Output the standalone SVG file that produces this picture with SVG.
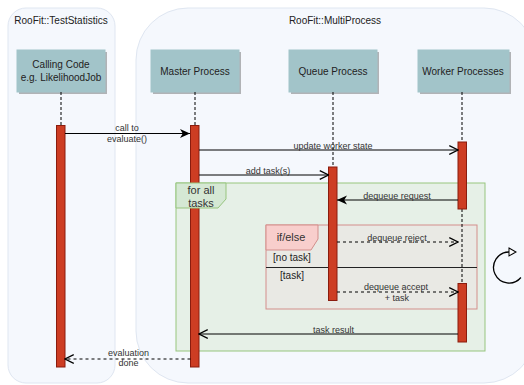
<svg xmlns="http://www.w3.org/2000/svg" width="524" height="385" viewBox="0 0 524 385">
<style>
.cont{fill:#f5f8fd;stroke:#dfe6f1;stroke-width:1}
.box{fill:#a2c4c9;stroke:#a2c4c9}
.shadow{fill:#000;opacity:0.28}
.bar{fill:#cd3d23;stroke:#8a1c0e;stroke-width:1}
.life{stroke:#000;stroke-width:1;stroke-dasharray:3 2;fill:none}
.msg{stroke:#000;stroke-width:1;fill:none}
.dash{stroke-dasharray:3 3}
text{font-family:"Liberation Sans",Arial,sans-serif;fill:#222}
.t10{font-size:10px}
.t9{font-size:9px;fill:#333}
.t11{font-size:11px;fill:#333}
.mid{text-anchor:middle}
</style>
<defs>
<marker id="open" markerUnits="userSpaceOnUse" markerWidth="10" markerHeight="10" viewBox="0 0 8 8" refX="7.5" refY="4" orient="auto">
<path d="M0.5,0.5 L7.5,4 L0.5,7.5" fill="none" stroke="#000" stroke-width="1"/>
</marker>
<marker id="classic" markerUnits="userSpaceOnUse" markerWidth="10" markerHeight="10" viewBox="0 0 9 8" refX="9" refY="4" orient="auto">
<path d="M0,0 L9,4 L0,8 L2.5,4 Z" fill="#000"/>
</marker>
<marker id="block" markerUnits="userSpaceOnUse" markerWidth="10" markerHeight="10" viewBox="0 0 9 10" refX="1" refY="5" orient="auto">
<path d="M1,1 L8,5 L1,9 Z" fill="#fff" stroke="#000" stroke-width="1"/>
</marker>
</defs>
<rect width="524" height="385" fill="#fff"/>

<g id="container-teststatistics">
<rect class="cont" x="8" y="8" width="107" height="375" rx="18"/>
<text class="t10 mid" x="61" y="24">RooFit::TestStatistics</text>
</g>
<g id="container-multiprocess">
<rect class="cont" x="136" y="8" width="400" height="375" rx="52"/>
<text class="t10 mid" x="335" y="24">RooFit::MultiProcess</text>
</g>

<g id="frame-forall-body">
<rect x="176" y="183" width="309" height="168" fill="#e6f0e7" stroke="#97c57f" stroke-width="1"/>
</g>
<g id="frame-ifelse-body">
<rect x="266" y="225" width="211" height="84" fill="#e9e9e4" stroke="#d38e8b" stroke-width="1"/>
<line x1="266" y1="267.5" x2="477" y2="267.5" stroke="#222" stroke-width="1"/>
<text class="t10 mid" x="292" y="261">[no task]</text>
<text class="t10 mid" x="292" y="278.5">[task]</text>
</g>

<g id="lifeline-calling">
<rect class="shadow" x="19" y="52" width="88" height="42"/>
<rect class="box" x="17" y="50" width="88" height="42"/>
<text class="t10 mid" x="61" y="67.5">Calling Code</text>
<text class="t10 mid" x="61" y="80.5">e.g. LikelihoodJob</text>
<line class="life" x1="61" y1="92" x2="61" y2="125"/>
<rect class="bar" x="56.5" y="125.5" width="8.5" height="241.5"/>
</g>
<g id="lifeline-master">
<rect class="shadow" x="153" y="52" width="88" height="42"/>
<rect class="box" x="151" y="50" width="88" height="42"/>
<text class="t10 mid" x="195" y="75">Master Process</text>
<line class="life" x1="195" y1="92" x2="195" y2="125"/>
<rect class="bar" x="190.5" y="125.5" width="8.5" height="241.5"/>
</g>
<g id="lifeline-queue">
<rect class="shadow" x="291" y="52" width="88" height="42"/>
<rect class="box" x="289" y="50" width="88" height="42"/>
<text class="t10 mid" x="333" y="75">Queue Process</text>
<line class="life" x1="333" y1="92" x2="333" y2="167"/>
<rect class="bar" x="328.5" y="167" width="8.5" height="133.5"/>
</g>
<g id="lifeline-worker">
<rect class="shadow" x="420" y="52" width="91" height="42"/>
<rect class="box" x="418" y="50" width="91" height="42"/>
<text class="t10 mid" x="463" y="75">Worker Processes</text>
<line class="life" x1="462" y1="92" x2="462" y2="142"/>
<line class="life" x1="462" y1="209" x2="462" y2="283"/>
<rect class="bar" x="458" y="142" width="8.5" height="67"/>
<rect class="bar" x="458" y="283.5" width="8.5" height="58.5"/>
</g>

<g id="frame-forall-tab">
<path d="M176,183 H226 V199 L218,208 H176 Z" fill="#d5e8d4" stroke="#97c57f" stroke-width="1"/>
<text class="t11 mid" x="201" y="194">for all</text>
<text class="t11 mid" x="201" y="207">tasks</text>
</g>
<g id="frame-ifelse-tab">
<path d="M266,225 H318 V239 L311,250 H266 Z" fill="#f8cecc" stroke="#d38e8b" stroke-width="1"/>
<text class="t11 mid" x="291" y="241">if/else</text>
</g>

<g id="connectors">
<line class="msg" x1="65" y1="133.5" x2="190" y2="133.5" marker-end="url(#classic)"/>
<text class="t9 mid" x="127" y="131">call to</text>
<text class="t9 mid" x="127" y="142">evaluate()</text>
<line class="msg" x1="199" y1="150" x2="458" y2="150" marker-end="url(#open)"/>
<text class="t9 mid" x="333" y="149">update worker state</text>
<line class="msg" x1="199" y1="175" x2="328.5" y2="175" marker-end="url(#open)"/>
<text class="t9 mid" x="268" y="174">add task(s)</text>
<line class="msg" x1="458" y1="200" x2="337" y2="200" marker-end="url(#classic)"/>
<text class="t9 mid" x="397" y="199">dequeue request</text>
<line class="msg dash" x1="337" y1="242" x2="458" y2="242" marker-end="url(#open)"/>
<text class="t9 mid" x="397" y="240.5">dequeue reject</text>
<line class="msg dash" x1="337" y1="292" x2="458" y2="292" marker-end="url(#open)"/>
<text class="t9 mid" x="396" y="290">dequeue accept</text>
<text class="t9 mid" x="397" y="300.5">+ task</text>
<line class="msg" x1="458" y1="334" x2="199" y2="334" marker-end="url(#open)" stroke="#222"/>
<text class="t9 mid" x="333.5" y="333">task result</text>
<line class="msg dash" x1="190.5" y1="359" x2="65" y2="359" marker-end="url(#open)"/>
<text class="t9 mid" x="128.5" y="356">evaluation</text>
<text class="t9 mid" x="128.5" y="366">done</text>
</g>

<g id="loop-icon">
<path d="M520.9,277.5 A15.5,15.5 0 1 1 509,252" fill="none" stroke="#000" stroke-width="1.3" marker-end="url(#block)"/>
</g>
</svg>
